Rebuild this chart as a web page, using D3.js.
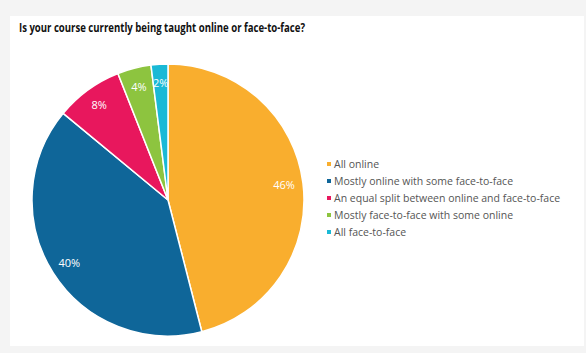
<!DOCTYPE html>
<html lang="en">
<head>
    <meta charset="UTF-8">
    <title>Online or face-to-face</title>
    <script src="https://cdn.jsdelivr.net/npm/d3@7"></script>
    <style>
        body { margin: 0; background: #f4f4f4; }
        text { font-family: "Open Sans", sans-serif; }
    </style>
</head>
<body>
<script>
    const categories = [
        "All online",
        "Mostly online with some face-to-face",
        "An equal split between online and face-to-face",
        "Mostly face-to-face with some online",
        "All face-to-face"
    ];
    const values = [46, 40, 8, 4, 2];
    const colours = ["#f9ae2e", "#0f6699", "#e8175d", "#8dc43f", "#1ab9d6"];

    const dim = {width: 586, height: 353};
    const pieC = {x: 168, y: 200, r: 136};

    const svg = d3.select("body").append("svg")
        .attr("width", dim.width)
        .attr("height", dim.height);

    svg.append("rect")
        .attr("x", 10).attr("y", 16)
        .attr("width", 574).attr("height", 330)
        .style("fill", "white");

    svg.append("text")
        .attr("x", 19).attr("y", 32)
        .attr("textLength", 286)
        .attr("lengthAdjust", "spacingAndGlyphs")
        .style("font-size", "12px")
        .style("font-weight", "bold")
        .style("fill", "#111")
        .text("Is your course currently being taught online or face-to-face?");

    const colour = d3.scaleOrdinal().domain(categories).range(colours);

    const data = categories.map((c, i) => ({name: c, value: values[i]}));
    const arcs = d3.pie().sort(null).value(d => d.value)(data);
    const arc = d3.arc().innerRadius(0).outerRadius(pieC.r);
    const labelArc = d3.arc().innerRadius(pieC.r * 0.86).outerRadius(pieC.r * 0.86);

    const chart = svg.append("g")
        .attr("transform", `translate(${[pieC.x, pieC.y]})`);

    chart.selectAll("path")
        .data(arcs)
        .join("path")
        .attr("d", arc)
        .style("fill", d => colour(d.data.name))
        .style("stroke", "white")
        .style("stroke-width", 1.5);

    chart.selectAll("text")
        .data(arcs)
        .join("text")
        .attr("transform", d => `translate(${labelArc.centroid(d)})`)
        .attr("text-anchor", "middle")
        .attr("dy", "0.35em")
        .style("font-size", "11px")
        .style("fill", "white")
        .text(d => d.data.value + "%");

    const y = d3.scalePoint().domain(categories).range([164, 232]);

    const legend = svg.append("g").selectAll("g")
        .data(categories)
        .join("g")
        .attr("transform", d => `translate(327,${y(d)})`);

    legend.append("rect")
        .attr("x", 0).attr("y", -2)
        .attr("width", 4).attr("height", 4)
        .style("fill", d => colour(d));

    legend.append("text")
        .attr("x", 7).attr("dy", "0.35em")
        .style("font-size", "10.5px")
        .style("fill", "#555")
        .text(d => d);
</script>
</body>
</html>
